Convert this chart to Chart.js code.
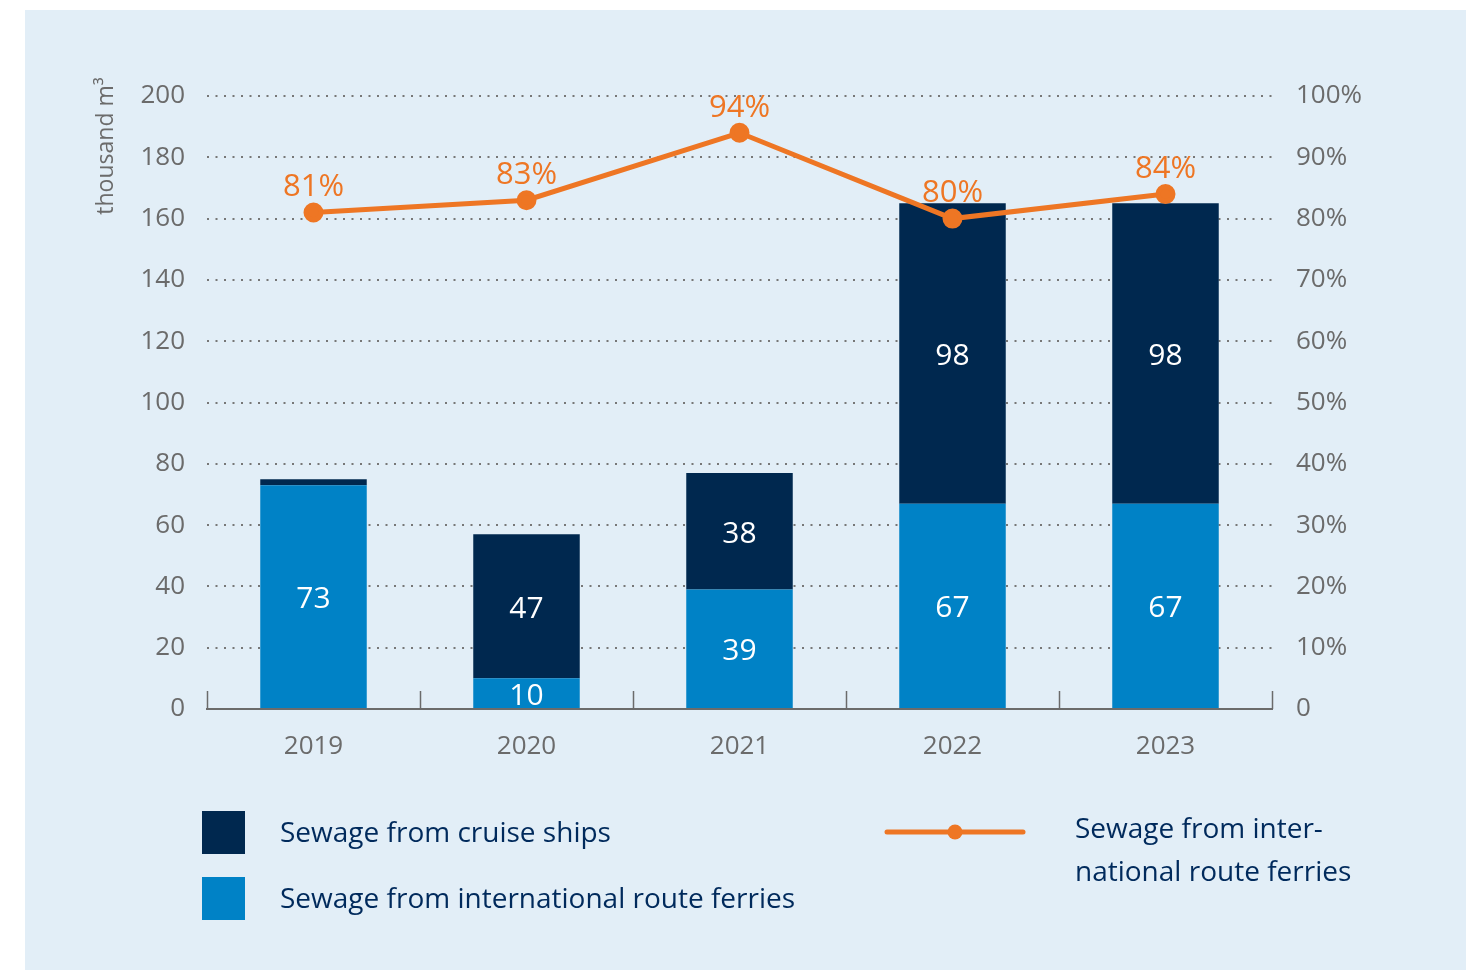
<!DOCTYPE html>
<html>
<head>
<meta charset="utf-8">
<script src="https://cdn.jsdelivr.net/npm/chart.js"></script>
<style>
  body { margin: 0; background: #fff; font-family: "Open Sans", sans-serif; }
  #panel { position: absolute; left: 25px; top: 10px; width: 1441px; height: 960px; background: #e2eef7; }
  #wrap { position: absolute; left: 0; top: 0; width: 1482px; height: 970px; }
  .leg { position: absolute; color: #002a5c; font-size: 28px; line-height: 43px; white-space: nowrap; }
  .sq { position: absolute; width: 43px; height: 43px; }
</style>
</head>
<body>
<div id="panel"></div>
<div id="wrap"><canvas id="myChart" width="1482" height="970"></canvas></div>
<div class="sq" style="left:202px;top:811px;background:#00284f"></div>
<div class="leg" id="leg1" style="left:280px;top:810px"></div>
<div class="sq" style="left:202px;top:877px;background:#0082c6"></div>
<div class="leg" id="leg2" style="left:280px;top:876px"></div>
<svg style="position:absolute;left:880px;top:820px" width="150" height="24">
  <line x1="7" y1="12" x2="143" y2="12" stroke="#ee7624" stroke-width="5" stroke-linecap="round"/>
  <circle cx="75" cy="12" r="7.5" fill="#ee7624"/>
</svg>
<div class="leg" style="left:1075px;top:806px">Sewage from inter-<br>national route ferries</div>
<script>
// data
const years = ['2019', '2020', '2021', '2022', '2023']
const ferries = [73, 10, 39, 67, 67]
const cruise = [2, 47, 38, 98, 98]
const share = [81, 83, 94, 80, 84]
const cruiseLabel = 'Sewage from cruise ships'
const ferryLabel = 'Sewage from international route ferries'
const shareLabel = 'Sewage from international route ferries (share)'

document.getElementById('leg1').textContent = cruiseLabel
document.getElementById('leg2').textContent = ferryLabel

const navy = '#00284f'
const blue = '#0082c6'
const orange = '#ee7624'
const grey = '#6b6b6b'
const font = '"Open Sans", sans-serif'

// labels on bars and line points + small upward ticks + axis title
const extras = {
  id: 'extras',
  afterDatasetsDraw(chart) {
    const c = chart.ctx
    const area = chart.chartArea
    c.save()
    // ticks on x axis
    c.strokeStyle = grey
    c.lineWidth = 1.5
    const n = years.length
    for (let i = 0; i <= n; i++) {
      const x = Math.round(area.left + i * (area.right - area.left) / n) + 0.5
      c.beginPath()
      c.moveTo(x, area.bottom)
      c.lineTo(x, area.bottom - 18)
      c.stroke()
    }
    // bar values
    c.font = '30px ' + font
    c.textAlign = 'center'
    c.textBaseline = 'middle'
    c.fillStyle = '#ffffff'
    ;[0, 1].forEach(di => {
      const meta = chart.getDatasetMeta(di)
      meta.data.forEach((bar, i) => {
        const v = chart.data.datasets[di].data[i]
        if (v < 5) return
        c.fillText(String(v), bar.x, (bar.y + bar.base) / 2 + 3)
      })
    })
    // line values
    c.font = '31px ' + font
    c.fillStyle = orange
    chart.getDatasetMeta(2).data.forEach((pt, i) => {
      c.fillText(share[i] + '%', pt.x, pt.y - 25)
    })
    // y axis title
    c.fillStyle = grey
    c.font = '23px ' + font
    c.translate(106, 146)
    c.rotate(-Math.PI / 2)
    c.fillText('thousand m\u00B3', 0, 0)
    c.restore()
  }
}

const chart = new Chart(document.getElementById('myChart'), {
  type: 'bar',
  data: {
    labels: years,
    datasets: [
      { label: ferryLabel, data: ferries, backgroundColor: blue, stack: 's', order: 1,
        categoryPercentage: 0.5, barPercentage: 1 },
      { label: cruiseLabel, data: cruise, backgroundColor: navy, stack: 's', order: 1,
        categoryPercentage: 0.5, barPercentage: 1 },
      { type: 'line', label: shareLabel, data: share, yAxisID: 'y1', order: 0,
        borderColor: orange, backgroundColor: orange, borderWidth: 5,
        pointRadius: 7.5, pointHoverRadius: 7.5 }
    ]
  },
  options: {
    responsive: false,
    animation: false,
    devicePixelRatio: 1,
    layout: { padding: { top: 96, bottom: 0, left: 0, right: 0 } },
    plugins: { legend: { display: false }, tooltip: { enabled: false } },
    scales: {
      x: {
        stacked: true,
        grid: { display: false },
        border: { color: grey, width: 2 },
        ticks: { color: grey, font: { size: 26, family: font }, padding: 14 },
        afterFit: s => { s.height = 261 }
      },
      y: {
        stacked: true,
        min: 0, max: 200,
        ticks: { stepSize: 20, color: grey, font: { size: 26, family: font }, padding: 22 },
        grid: { color: '#777', lineWidth: 2, drawTicks: false },
        border: { display: false, dash: [2, 6.5] },
        afterFit: s => { s.width = 207 }
      },
      y1: {
        position: 'right',
        min: 0, max: 100,
        ticks: { stepSize: 10, color: grey, font: { size: 26, family: font }, padding: 16,
          callback: v => v === 0 ? '0' : v + '%' },
        grid: { display: false },
        border: { display: false },
        afterFit: s => { s.width = 210 }
      }
    }
  },
  plugins: [extras]
})
</script>
</body>
</html>
